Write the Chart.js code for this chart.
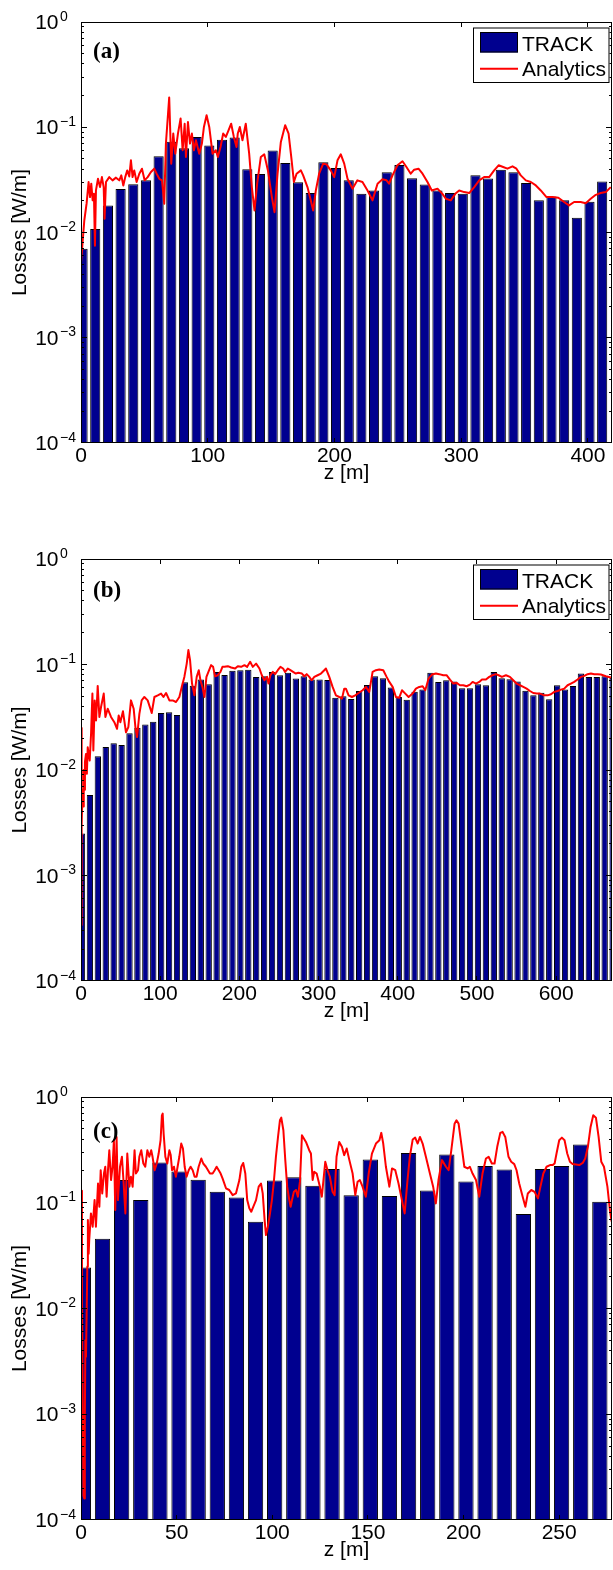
<!DOCTYPE html>
<html>
<head>
<meta charset="utf-8">
<script src="https://cdn.jsdelivr.net/npm/chart.js@4.4.1/dist/chart.umd.min.js"></script>
<style>
  html, body { margin: 0; padding: 0; background: #fff; overflow: hidden; }
  canvas { position: absolute; left: 0; }
</style>
</head>
<body>
<canvas id="panel-a" width="613" height="537" style="top:0px"></canvas>
<canvas id="panel-b" width="613" height="538" style="top:537px"></canvas>
<canvas id="panel-c" width="613" height="495" style="top:1075px"></canvas>
<script>
// ── Data ──────────────────────────────────────────────────────────────────

// decade labels on the loss axis (10^e)
const decadeExp = [0, -1, -2, -3, -4];

// (a) TRACK losses per 10 m bin, and the analytic curve as [z, W/m]
const aTicks = [0, 100, 200, 300, 400];
const aBinZ = [1.25, 11.25, 21.25, 31.25, 41.25, 51.25, 61.25, 71.25, 81.25, 91.25,
  101.25, 111.25, 121.25, 131.25, 141.25, 151.25, 161.25, 171.25, 181.25, 191.25,
  201.25, 211.25, 221.25, 231.25, 241.25, 251.25, 261.25, 271.25, 281.25, 291.25,
  301.25, 311.25, 321.25, 331.25, 341.25, 351.25, 361.25, 371.25, 381.25, 391.25,
  401.25, 411.25];
const aTrack = [0.007, 0.0108, 0.0181, 0.0259, 0.0288, 0.0313, 0.053, 0.073, 0.063, 0.081,
  0.067, 0.076, 0.080, 0.040, 0.036, 0.060, 0.0457, 0.030, 0.0237, 0.0464,
  0.041, 0.0313, 0.0233, 0.0251, 0.0373, 0.0438, 0.0327, 0.0286, 0.0251, 0.0237,
  0.0233, 0.0349, 0.0325, 0.0395, 0.0373, 0.0295, 0.0202, 0.022, 0.0202, 0.0138,
  0.0196, 0.0306];
const aAnalytics = [[0, 0.0052], [2.6, 0.013], [4.4, 0.0188], [6.0, 0.0302], [7.1, 0.0217],
  [8.1, 0.0291], [9.2, 0.0202], [10.2, 0.0233], [11.0, 0.0075], [11.8, 0.0251],
  [13.4, 0.0324], [15.0, 0.027], [16.5, 0.0336], [17.9, 0.027], [18.6, 0.0135],
  [19.7, 0.0302], [22.3, 0.0336], [24.9, 0.0313], [27.6, 0.0332], [30.2, 0.0313],
  [31.8, 0.0349], [33.4, 0.028], [34.9, 0.0336], [36.5, 0.0389], [38.1, 0.0341],
  [39.4, 0.0485], [40.7, 0.0336], [42.0, 0.0389], [43.9, 0.0302], [46.0, 0.0362],
  [48.1, 0.0404], [50.2, 0.0313], [52.6, 0.0336], [55.2, 0.0376], [57.8, 0.0404],
  [59.7, 0.0362], [61.8, 0.0324], [63.9, 0.0313], [65.7, 0.0188], [67.0, 0.0699],
  [69.6, 0.192], [71.2, 0.0451], [72.8, 0.0871], [74.4, 0.0561], [76.5, 0.0871],
  [78.6, 0.121], [80.2, 0.0604], [81.8, 0.108], [82.8, 0.0522], [84.4, 0.112],
  [86.0, 0.0699], [87.5, 0.0871], [89.1, 0.0604], [90.7, 0.0752], [93.3, 0.0561],
  [95.4, 0.0699], [97.0, 0.1007], [99.1, 0.13], [101.2, 0.1007], [103.8, 0.0561],
  [106.4, 0.0604], [108.0, 0.0522], [110.1, 0.065], [112.2, 0.0871], [114.3, 0.081],
  [116.4, 0.0936], [118.5, 0.108], [120.6, 0.081], [122.7, 0.065], [123.7, 0.0871],
  [125.3, 0.1007], [127.4, 0.0752], [130.0, 0.108], [132.7, 0.0561], [134.8, 0.027],
  [136.9, 0.0162], [139.0, 0.0291], [141.9, 0.0522], [144.6, 0.0553], [147.5, 0.0389],
  [150.6, 0.0217], [152.7, 0.0156], [155.1, 0.0362], [157.7, 0.0725], [161.1, 0.1045],
  [163.8, 0.0871], [165.9, 0.0522], [168.0, 0.0302], [170.1, 0.0362], [173.5, 0.0389],
  [175.3, 0.0349], [178.7, 0.027], [181.3, 0.0202], [183.2, 0.0162], [185.3, 0.0251],
  [187.9, 0.0362], [191.1, 0.0451], [193.7, 0.0444], [197.1, 0.0389], [199.8, 0.0336],
  [202.4, 0.0485], [205.0, 0.0553], [207.7, 0.0451], [210.3, 0.0324], [214.2, 0.0261],
  [218.1, 0.0313], [222.1, 0.0302], [226.1, 0.0251], [230.0, 0.0202], [234.0, 0.0291],
  [237.9, 0.032], [241.1, 0.0313], [243.1, 0.0291], [245.8, 0.0349], [249.7, 0.0435],
  [253.7, 0.0475], [256.8, 0.0419], [260.2, 0.0362], [262.9, 0.0395], [266.3, 0.0404],
  [269.5, 0.0362], [273.4, 0.0302], [276.8, 0.0251], [281.3, 0.0261], [285.2, 0.0233],
  [287.9, 0.0209], [291.8, 0.0202], [295.3, 0.0233], [298.4, 0.0251], [302.4, 0.0242],
  [306.3, 0.0237], [310.3, 0.027], [314.2, 0.0313], [318.1, 0.0336], [322.1, 0.0336],
  [326.0, 0.0389], [329.5, 0.0435], [333.1, 0.0419], [336.5, 0.0404], [340.5, 0.0425],
  [343.6, 0.0404], [347.0, 0.0349], [351.0, 0.0313], [354.9, 0.0302], [358.9, 0.028],
  [362.8, 0.0251], [367.3, 0.0217], [372.0, 0.0217], [376.7, 0.0214], [381.2, 0.0195],
  [385.1, 0.0181], [389.1, 0.0195], [394.3, 0.0195], [398.3, 0.019], [402.2, 0.0209],
  [406.2, 0.0228], [410.1, 0.0237], [414.1, 0.0242], [418.0, 0.027]];

// (b)
const bTicks = [0, 100, 200, 300, 400, 500, 600];
const bBinZ = [1.25, 11.25, 21.25, 31.25, 41.25, 51.25, 61.25, 71.25, 81.25, 91.25,
  101.25, 111.25, 121.25, 131.25, 141.25, 151.25, 161.25, 171.25, 181.25, 191.25,
  201.25, 211.25, 221.25, 231.25, 241.25, 251.25, 261.25, 271.25, 281.25, 291.25,
  301.25, 311.25, 321.25, 331.25, 341.25, 351.25, 361.25, 371.25, 381.25, 391.25,
  401.25, 411.25, 421.25, 431.25, 441.25, 451.25, 461.25, 471.25, 481.25, 491.25,
  501.25, 511.25, 521.25, 531.25, 541.25, 551.25, 561.25, 571.25, 581.25, 591.25,
  601.25, 611.25, 621.25, 631.25, 641.25, 651.25, 661.25, 671.25];
const bTrack = [0.0025, 0.0058, 0.0135, 0.0165, 0.0179, 0.0173, 0.0223, 0.0251, 0.027, 0.0286,
  0.0347, 0.0352, 0.0332, 0.0679, 0.063, 0.072, 0.065, 0.0851, 0.0797, 0.0871,
  0.0883, 0.089, 0.0763, 0.0774, 0.0851, 0.079, 0.0836, 0.0738, 0.0774, 0.072,
  0.072, 0.0714, 0.0485, 0.0499, 0.0471, 0.0561, 0.064, 0.0774, 0.0741, 0.0604,
  0.0492, 0.0464, 0.0553, 0.0578, 0.0833, 0.0684, 0.0709, 0.0689, 0.0595, 0.0595,
  0.065, 0.0636, 0.0851, 0.0741, 0.0725, 0.0689, 0.0565, 0.0511, 0.0541, 0.0468,
  0.0636, 0.0578, 0.0627, 0.0821, 0.0763, 0.0763, 0.0774, 0.075];
const bAnalytics = [[0, 0.025], [0.4, 0.00034], [1.2, 0.003], [2.0, 0.0065], [2.8, 0.0045],
  [3.5, 0.01], [4.3, 0.0065], [5.0, 0.012], [6.3, 0.0142], [7.4, 0.0092],
  [8.5, 0.0164], [11.0, 0.0123], [12.7, 0.022], [14.4, 0.053], [15.6, 0.0153],
  [17.3, 0.0457], [19.0, 0.0295], [21.1, 0.0627], [23.2, 0.0318], [25.3, 0.0395],
  [28.7, 0.053], [30.8, 0.0318], [33.7, 0.0381], [37.9, 0.0318], [42.1, 0.0284],
  [45.5, 0.0246], [47.6, 0.0329], [49.7, 0.0284], [53.0, 0.036], [56.8, 0.0228],
  [59.8, 0.0255], [63.1, 0.0457], [66.5, 0.0381], [68.7, 0.0255], [70.8, 0.0205],
  [73.7, 0.0341], [76.6, 0.0457], [80.0, 0.0492], [84.2, 0.0457], [87.6, 0.0381],
  [89.3, 0.0347], [92.7, 0.0492], [96.9, 0.051], [101.1, 0.053], [104.1, 0.0492],
  [107.4, 0.0537], [111.6, 0.0457], [115.8, 0.0457], [120.0, 0.0441], [124.2, 0.0492],
  [127.2, 0.0613], [130.5, 0.0763], [133.5, 0.102], [135.6, 0.137], [137.7, 0.11],
  [140.2, 0.066], [143.2, 0.051], [146.1, 0.0763], [148.7, 0.0883], [150.8, 0.0709],
  [153.3, 0.0613], [155.9, 0.0492], [158.4, 0.0763], [160.9, 0.0851], [164.3, 0.0986],
  [166.8, 0.095], [169.3, 0.0774], [172.7, 0.0791], [176.1, 0.0851], [178.6, 0.095],
  [181.2, 0.095], [185.4, 0.0964], [189.6, 0.0936], [194.6, 0.0916], [198.0, 0.0964],
  [202.2, 0.095], [206.4, 0.0986], [209.8, 0.095], [213.6, 0.106], [216.9, 0.095],
  [221.1, 0.102], [225.3, 0.0916], [228.3, 0.0791], [231.6, 0.0709], [235.0, 0.0763],
  [236.7, 0.066], [239.2, 0.0791], [242.2, 0.0851], [245.1, 0.081], [248.5, 0.0883],
  [251.8, 0.095], [255.2, 0.0916], [257.7, 0.0851], [261.1, 0.0916], [264.4, 0.0883],
  [267.8, 0.0851], [271.2, 0.0821], [274.5, 0.0834], [279.0, 0.0821], [282.0, 0.0774],
  [285.0, 0.081], [288.3, 0.0763], [291.2, 0.0709], [294.6, 0.0763], [298.8, 0.0791],
  [303.0, 0.0821], [307.2, 0.0883], [309.3, 0.0916], [313.5, 0.0763], [317.7, 0.0613],
  [321.9, 0.051], [326.1, 0.0492], [329.5, 0.0475], [332.4, 0.059], [334.5, 0.059],
  [337.9, 0.051], [342.1, 0.0492], [346.3, 0.051], [350.5, 0.0537], [355.6, 0.057],
  [359.8, 0.0613], [364.0, 0.055], [368.2, 0.0851], [372.4, 0.0883], [376.6, 0.0896],
  [381.7, 0.0883], [385.9, 0.0763], [389.3, 0.0684], [393.5, 0.0613], [397.7, 0.0492],
  [401.9, 0.0485], [405.3, 0.057], [409.5, 0.053], [413.7, 0.0492], [418.7, 0.053],
  [422.9, 0.059], [427.1, 0.0613], [431.4, 0.0622], [434.7, 0.057], [438.9, 0.0736],
  [443.1, 0.0803], [448.2, 0.0821], [452.4, 0.081], [457.4, 0.0791], [461.6, 0.0791],
  [465.9, 0.072], [470.1, 0.066], [474.3, 0.0669], [478.5, 0.0636], [482.7, 0.0636],
  [486.9, 0.0622], [491.1, 0.0645], [494.5, 0.0684], [498.7, 0.066], [502.9, 0.0684],
  [506.3, 0.072], [511.3, 0.072], [515.5, 0.0763], [519.7, 0.0791], [523.9, 0.081],
  [527.3, 0.0791], [531.5, 0.0763], [536.6, 0.0791], [541.6, 0.0763], [545.8, 0.0709],
  [550.0, 0.066], [554.3, 0.0636], [558.5, 0.0613], [562.7, 0.059], [566.9, 0.0561],
  [571.1, 0.0537], [575.3, 0.053], [579.5, 0.053], [585.0, 0.051], [589.2, 0.051],
  [593.4, 0.0522], [597.6, 0.055], [601.8, 0.0561], [606.0, 0.0578], [610.2, 0.059],
  [614.4, 0.0636], [618.6, 0.066], [622.8, 0.0684], [627.0, 0.072], [631.3, 0.0763],
  [635.5, 0.078], [639.7, 0.081], [643.9, 0.0821], [648.1, 0.081], [652.3, 0.081],
  [656.5, 0.0803], [662.8, 0.0774], [669.1, 0.0752]];

// (c)
const cTicks = [0, 50, 100, 150, 200, 250];
const cBinZ = [1.25, 11.25, 21.25, 31.25, 41.25, 51.25, 61.25, 71.25, 81.25, 91.25,
  101.25, 111.25, 121.25, 131.25, 141.25, 151.25, 161.25, 171.25, 181.25, 191.25,
  201.25, 211.25, 221.25, 231.25, 241.25, 251.25, 261.25, 271.25];
const cTrack = [0.0244, 0.0457, 0.1637, 0.106, 0.24, 0.1976, 0.165, 0.127, 0.112, 0.0662,
  0.1625, 0.1746, 0.1446, 0.208, 0.118, 0.256, 0.1156, 0.296, 0.1307, 0.2857,
  0.159, 0.222, 0.206, 0.0782, 0.209, 0.222, 0.355, 0.102];
const cAnalytics = [[0, 0.13], [0.5, 0.01], [0.9, 0.0012], [1.3, 0.00017], [1.7, 0.00016],
  [2.0, 0.0009], [2.3, 0.005], [2.6, 0.0035], [2.9, 0.0078], [3.3, 0.025],
  [3.6, 0.0686], [4.0, 0.033], [4.3, 0.0444], [5.2, 0.0793], [6.1, 0.0594],
  [7.1, 0.106], [7.8, 0.0594], [8.9, 0.152], [9.6, 0.0917], [10.3, 0.203],
  [11.1, 0.1225], [12.0, 0.189], [12.7, 0.219], [13.4, 0.114], [14.1, 0.203],
  [14.8, 0.314], [15.7, 0.164], [16.5, 0.219], [17.2, 0.39], [17.9, 0.0853],
  [18.6, 0.419], [19.3, 0.106], [20.4, 0.219], [21.4, 0.272], [22.3, 0.152],
  [23.2, 0.0793], [24.2, 0.292], [25.3, 0.142], [26.1, 0.176], [27.0, 0.142],
  [28.0, 0.314], [28.7, 0.189], [29.8, 0.203], [30.5, 0.272], [31.5, 0.314],
  [32.6, 0.235], [33.6, 0.219], [34.7, 0.314], [35.7, 0.272], [36.7, 0.314],
  [37.4, 0.272], [38.5, 0.203], [39.6, 0.235], [40.6, 0.292], [41.6, 0.39],
  [42.3, 0.671], [42.7, 0.696], [43.2, 0.451], [44.1, 0.272], [45.1, 0.235],
  [46.2, 0.314], [46.9, 0.282], [47.6, 0.203], [48.6, 0.219], [49.6, 0.176],
  [50.5, 0.219], [51.4, 0.272], [52.4, 0.363], [53.3, 0.326], [54.2, 0.219],
  [55.2, 0.176], [56.3, 0.203], [57.3, 0.219], [58.4, 0.203], [59.4, 0.176],
  [60.4, 0.176], [61.5, 0.219], [62.9, 0.262], [63.9, 0.235], [65.3, 0.219],
  [66.4, 0.203], [67.4, 0.189], [68.8, 0.189], [69.9, 0.203], [70.9, 0.219],
  [72.0, 0.203], [73.0, 0.189], [74.0, 0.17], [75.8, 0.137], [77.5, 0.132],
  [79.3, 0.118], [81.0, 0.1225], [82.8, 0.164], [83.8, 0.219], [84.8, 0.238],
  [85.9, 0.189], [86.9, 0.106], [88.0, 0.0885], [89.0, 0.0822], [90.1, 0.0917],
  [91.5, 0.106], [92.9, 0.142], [94.1, 0.152], [95.0, 0.1225], [96.0, 0.0686],
  [96.7, 0.0495], [97.7, 0.0594], [98.8, 0.0793], [99.8, 0.106], [100.9, 0.164],
  [101.9, 0.272], [103.0, 0.419], [104.0, 0.602], [104.7, 0.638], [105.8, 0.485],
  [106.8, 0.253], [107.8, 0.142], [108.9, 0.106], [109.6, 0.0917], [110.3, 0.106],
  [111.3, 0.127], [112.4, 0.132], [113.4, 0.114], [114.5, 0.16], [115.5, 0.435],
  [117.6, 0.376], [119.3, 0.314], [120.2, 0.292], [121.1, 0.164], [121.9, 0.196],
  [123.2, 0.189], [124.9, 0.142], [125.9, 0.114], [127.7, 0.244], [128.9, 0.203],
  [130.1, 0.176], [131.5, 0.127], [132.6, 0.118], [133.6, 0.272], [135.0, 0.376],
  [136.4, 0.338], [137.6, 0.282], [138.9, 0.326], [140.3, 0.253], [142.0, 0.189],
  [143.4, 0.118], [144.6, 0.158], [145.8, 0.164], [147.2, 0.142], [148.9, 0.114],
  [150.4, 0.189], [152.1, 0.292], [154.2, 0.363], [156.0, 0.39], [157.0, 0.458],
  [158.0, 0.363], [159.4, 0.219], [161.2, 0.142], [162.6, 0.211], [164.3, 0.203],
  [166.0, 0.152], [168.1, 0.0986], [169.2, 0.0793], [170.7, 0.164], [171.9, 0.272],
  [173.4, 0.396], [174.7, 0.413], [176.0, 0.363], [177.2, 0.419], [178.6, 0.363],
  [180.3, 0.272], [182.4, 0.189], [184.1, 0.142], [185.5, 0.0986], [186.9, 0.164],
  [188.7, 0.253], [190.8, 0.219], [192.2, 0.203], [193.6, 0.314], [195.3, 0.56],
  [196.3, 0.602], [197.4, 0.56], [198.8, 0.363], [200.4, 0.219], [202.1, 0.211],
  [203.3, 0.219], [204.7, 0.189], [206.5, 0.164], [208.2, 0.114], [209.9, 0.189],
  [211.7, 0.262], [213.1, 0.272], [214.8, 0.235], [216.2, 0.235], [217.6, 0.338],
  [219.2, 0.458], [220.4, 0.468], [221.8, 0.419], [223.5, 0.272], [224.9, 0.244],
  [226.5, 0.232], [227.7, 0.203], [229.1, 0.152], [230.9, 0.114], [232.3, 0.0917],
  [233.6, 0.1225], [235.4, 0.132], [237.1, 0.127], [238.9, 0.11], [240.2, 0.142],
  [241.7, 0.189], [243.4, 0.219], [245.2, 0.227], [246.5, 0.227], [247.6, 0.235],
  [248.6, 0.292], [250.0, 0.39], [251.4, 0.413], [252.8, 0.39], [254.2, 0.292],
  [255.6, 0.244], [257.0, 0.232], [258.7, 0.23], [260.5, 0.227], [262.3, 0.238],
  [263.6, 0.262], [265.0, 0.338], [266.4, 0.521], [267.8, 0.671], [269.2, 0.638],
  [270.6, 0.419], [272.0, 0.244], [273.4, 0.219], [275.2, 0.142], [276.5, 0.0853],
  [277.4, 0.0662]];

// ── Styling ───────────────────────────────────────────────────────────────

const SANS = '"Liberation Sans", Arial, Helvetica, sans-serif';
const SERIF = '"Liberation Serif", "Times New Roman", serif';
const BAR_FILL = '#00008f';
const LINE_RED = '#ff0000';

// MATLAB-style box: inward ticks on all four sides, 10^n labels, legend, panel tag
const matlabAxes = {
  id: 'matlabAxes',
  afterDraw(chart, args, opts) {
    const { ctx, chartArea: area, scales: { x, y } } = chart;
    const L = area.left, R = area.right, T = area.top, B = area.bottom;
    const crisp = v => Math.floor(v) + 0.5;

    ctx.save();
    ctx.strokeStyle = '#000';
    ctx.lineWidth = 1;
    ctx.beginPath();

    // log ticks, left and right
    for (let e = -4; e <= 0; e++) {
      for (let m = 1; m <= 9; m++) {
        const v = m * Math.pow(10, e);
        if (v > 1) break;
        const py = Math.min(Math.max(crisp(y.getPixelForValue(v)), T + 0.5), B - 0.5);
        const len = m === 1 ? 6 : 3;
        ctx.moveTo(L, py); ctx.lineTo(L + len, py);
        ctx.moveTo(R, py); ctx.lineTo(R - len, py);
      }
    }
    // z ticks, top and bottom
    opts.zTicks.forEach(t => {
      const px = crisp(x.getPixelForValue(t));
      ctx.moveTo(px, T); ctx.lineTo(px, T + 5);
      ctx.moveTo(px, B); ctx.lineTo(px, B - 5);
    });
    ctx.stroke();
    ctx.strokeRect(L + 0.5, T + 0.5, R - L - 1, B - T - 1);

    ctx.fillStyle = '#000';

    // z tick labels and title
    ctx.font = `21px ${SANS}`;
    ctx.textAlign = 'center';
    ctx.textBaseline = 'alphabetic';
    opts.zTicks.forEach(t => ctx.fillText(String(t), x.getPixelForValue(t), B + 19));
    ctx.fillText('z [m]', (L + R) / 2, B + 36);

    // decade labels
    decadeExp.forEach(e => {
      const py = y.getPixelForValue(Math.pow(10, e));
      ctx.font = `21px ${SANS}`;
      ctx.textAlign = 'right';
      ctx.fillText('10', 58.5, py + 7);
      ctx.font = `14px ${SANS}`;
      ctx.textAlign = 'left';
      ctx.fillText(e === 0 ? '0' : '\u2212' + (-e), 60, py - 1.5);
    });

    // loss axis title
    ctx.save();
    ctx.translate(26, (T + B) / 2);
    ctx.rotate(-Math.PI / 2);
    ctx.font = `21px ${SANS}`;
    ctx.textAlign = 'center';
    ctx.fillText('Losses [W/m]', 0, 0);
    ctx.restore();

    // panel tag
    ctx.font = `bold 23px ${SERIF}`;
    ctx.textAlign = 'left';
    ctx.fillText(opts.tag, 93, T + opts.tagY);

    // legend box
    if (opts.legend) {
      const bars = chart.data.datasets.find(d => d.type === 'bar');
      const line = chart.data.datasets.find(d => d.type === 'line');
      const lx = 473, ly = T + 5.5, lw = 136.5, lh = 55.5;
      ctx.fillStyle = '#fff';
      ctx.fillRect(lx, ly, lw, lh);
      ctx.strokeStyle = '#000';
      ctx.strokeRect(lx + 0.5, ly + 0.5, lw - 1, lh - 1);

      ctx.fillStyle = bars.backgroundColor;
      ctx.fillRect(480, ly + 4.5, 38, 20.5);
      ctx.strokeRect(480.5, ly + 5, 37, 19.5);

      ctx.strokeStyle = line.borderColor;
      ctx.lineWidth = 2;
      ctx.beginPath();
      ctx.moveTo(480, ly + 41.2);
      ctx.lineTo(518, ly + 41.2);
      ctx.stroke();

      ctx.fillStyle = '#000';
      ctx.font = `21px ${SANS}`;
      ctx.fillText(bars.label, 522, ly + 23.3);
      ctx.fillText(line.label, 522, ly + 48.6);
    }
    ctx.restore();
  }
};

// ── Panels ────────────────────────────────────────────────────────────────

const panels = [
  { id: 'panel-a', tag: '(a)', tagY: 35.6, binZ: aBinZ, track: aTrack, analytics: aAnalytics,
    zMax: 419, zTicks: aTicks, plotHeight: 421, legend: true },
  { id: 'panel-b', tag: '(b)', tagY: 38.3, binZ: bBinZ, track: bTrack, analytics: bAnalytics,
    zMax: 670.5, zTicks: bTicks, plotHeight: 422, legend: true },
  { id: 'panel-c', tag: '(c)', tagY: 40.6, binZ: cBinZ, track: cTrack, analytics: cAnalytics,
    zMax: 277.6, zTicks: cTicks, plotHeight: 423, legend: false },
];

panels.forEach(p => {
  const canvas = document.getElementById(p.id);
  const padTop = 22;
  new Chart(canvas.getContext('2d'), {
    type: 'bar',
    data: {
      datasets: [
        {
          type: 'line',
          label: 'Analytics',
          data: p.analytics.map(([z, w]) => ({ x: z, y: w })),
          borderColor: LINE_RED,
          borderWidth: 2,
          borderJoinStyle: 'round',
          pointRadius: 0,
          tension: 0,
          fill: false,
          order: 0,
          clip: 0,
        },
        {
          type: 'bar',
          label: 'TRACK',
          data: p.binZ.map((z, i) => ({ x: z, y: p.track[i] })),
          backgroundColor: BAR_FILL,
          borderColor: '#000',
          borderWidth: 1,
          barPercentage: 0.8,
          categoryPercentage: 1,
          order: 1,
          clip: 0,
        }
      ]
    },
    options: {
      responsive: false,
      animation: false,
      devicePixelRatio: 1,
      events: [],
      layout: {
        padding: { left: 81, right: 1, top: padTop, bottom: canvas.height - padTop - p.plotHeight }
      },
      plugins: {
        legend: { display: false },
        tooltip: { enabled: false },
        matlabAxes: { tag: p.tag, tagY: p.tagY, zTicks: p.zTicks, legend: p.legend },
      },
      scales: {
        x: { type: 'linear', min: 0, max: p.zMax, offset: false, display: false },
        y: { type: 'logarithmic', min: 1e-4, max: 1, display: false },
      }
    },
    plugins: [matlabAxes]
  });
});
</script>
</body>
</html>
